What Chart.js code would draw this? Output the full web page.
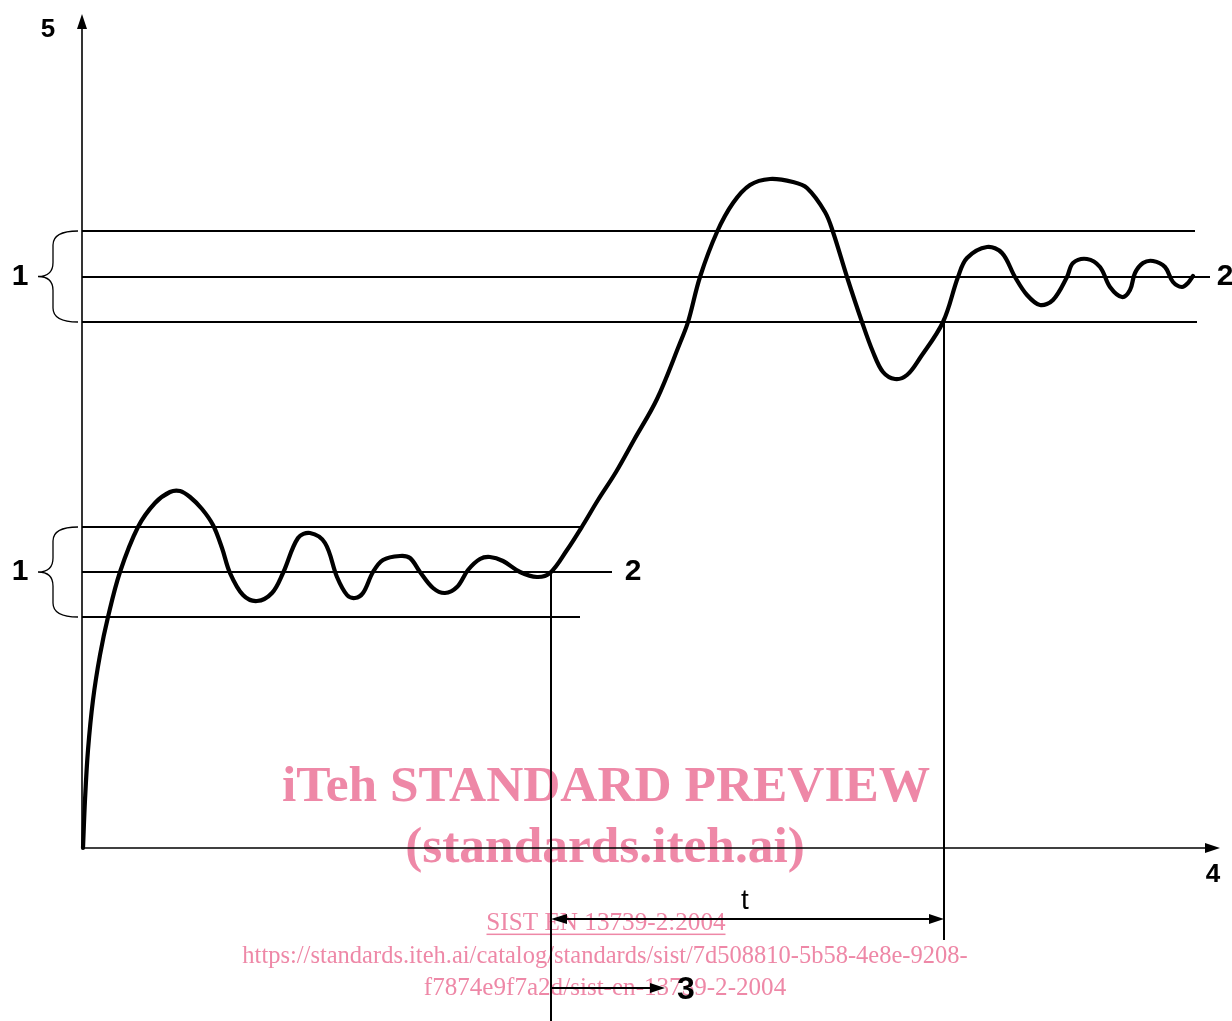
<!DOCTYPE html>
<html>
<head>
<meta charset="utf-8">
<script src="https://cdn.jsdelivr.net/npm/chart.js@4/dist/chart.umd.min.js"></script>
<style>
  html, body { margin: 0; padding: 0; background: #fff; }
  #wrap { width: 1232px; height: 1021px; }
</style>
</head>
<body>
<div id="wrap"><canvas id="chart"></canvas></div>
<script>
// response curve (time, value)
const curveX = [1,3,6,11,18,26,38,56,73,88,98,108,120,131,140,148,161,175,190,201,216,228,243,255,265,273,281,291,301,318,328,338,351,363,375,386,398,408,421,438,455,468,485,501,516,534,552,575,598,606,618,635,651,668,688,711,725,743,751,765,780,791,801,813,825,838,861,876,885,905,920,933,945,958,971,985,991,1005,1018,1028,1040,1048,1053,1061,1071,1083,1091,1100,1106,1111];
const curveY = [0,48,98,148,193,231,276,321,345,356,357,351,339,323,300,275,253,247,255,275,310,315,305,271,253,250,255,276,288,292,290,276,260,255,261,278,289,291,287,276,271,275,298,323,348,376,408,449,505,526,571,616,645,663,669,666,660,636,616,571,526,496,476,469,473,490,526,571,590,601,595,571,553,543,548,571,585,589,581,561,551,558,575,585,587,581,566,561,565,572];

// tolerance bands: [upper, setpoint, lower] and line ends
const bandLow = [321, 276, 231];
const bandLowEnd = [500, 530, 498];
const bandHigh = [617, 571, 526];
const bandHighEnd = [1113, 1128, 1115];

// marker times
const tStart = 469;
const tEnd = 862;

const xMax = 1138;
const yMax = 834;

const black = "#000";
const pink = "#ee88a7";

function seg(x0, y0, x1, y1, w) {
  return {
    data: [{ x: x0, y: y0 }, { x: x1, y: y1 }],
    borderColor: black, borderWidth: w || 2, pointRadius: 0, showLine: true, clip: false, tension: 0
  };
}

const datasets = [];
// axes
datasets.push(seg(0, 0, 0, 822, 1.6));
datasets.push(seg(0, 0, 1126, 0, 1.6));
// bands
bandLow.forEach((v, i) => datasets.push(seg(0, v, bandLowEnd[i], v, 2)));
bandHigh.forEach((v, i) => datasets.push(seg(0, v, bandHighEnd[i], v, 2)));
// verticals
datasets.push(seg(tStart, bandLow[1], tStart, -173, 2));
datasets.push(seg(tEnd, bandHigh[2], tEnd, -92, 2));
// dimension arrows
datasets.push(seg(tStart + 8, -71, tEnd - 8, -71, 2));
datasets.push(seg(tStart, -140, 575, -140, 2));
// curve
datasets.push({
  data: curveX.map((x, i) => ({ x: x, y: curveY[i] })),
  borderColor: black, borderWidth: 4.2, pointRadius: 0, showLine: true, clip: false,
  tension: 0.35, borderJoinStyle: "round", borderCapStyle: "round"
});

function arrowHead(ctx, sx, sy, tipX, tipY, dir) {
  const px = sx.getPixelForValue(tipX), py = sy.getPixelForValue(tipY);
  ctx.beginPath();
  ctx.fillStyle = black;
  if (dir === "up") { ctx.moveTo(px, py); ctx.lineTo(px - 5, py + 15); ctx.lineTo(px + 5, py + 15); }
  if (dir === "right") { ctx.moveTo(px, py); ctx.lineTo(px - 15, py - 5); ctx.lineTo(px - 15, py + 5); }
  if (dir === "left") { ctx.moveTo(px, py); ctx.lineTo(px + 16, py - 5); ctx.lineTo(px + 16, py + 5); }
  ctx.closePath();
  ctx.fill();
}

function brace(ctx, sx, sy, y0, y1) {
  const xr = sx.getPixelForValue(-4), xm = sx.getPixelForValue(-29), xt = sx.getPixelForValue(-44);
  const p0 = sy.getPixelForValue(y0), p1 = sy.getPixelForValue(y1);
  const pm = (p0 + p1) / 2, r = 14;
  ctx.beginPath();
  ctx.strokeStyle = black;
  ctx.lineWidth = 1.3;
  ctx.moveTo(xr, p0);
  ctx.quadraticCurveTo(xm, p0, xm, p0 + r);
  ctx.lineTo(xm, pm - r);
  ctx.quadraticCurveTo(xm, pm, xt, pm);
  ctx.quadraticCurveTo(xm, pm, xm, pm + r);
  ctx.lineTo(xm, p1 - r);
  ctx.quadraticCurveTo(xm, p1, xr, p1);
  ctx.stroke();
}

function label(ctx, sx, sy, text, x, y, font) {
  ctx.font = font;
  ctx.fillStyle = black;
  ctx.textAlign = "center";
  ctx.textBaseline = "middle";
  ctx.fillText(text, sx.getPixelForValue(x), sy.getPixelForValue(y));
}

function fitText(ctx, text, cx, cy, width, family, weight, underline) {
  let size = 40;
  ctx.font = weight + " " + size + "px " + family;
  size = size * width / ctx.measureText(text).width;
  ctx.font = weight + " " + size.toFixed(1) + "px " + family;
  ctx.fillStyle = pink;
  ctx.textAlign = "center";
  ctx.textBaseline = "middle";
  ctx.fillText(text, cx, cy);
  if (underline) {
    ctx.fillRect(cx - width / 2, cy + size * 0.42, width, 1.5);
  }
}

const overlay = {
  id: "overlay",
  beforeDatasetsDraw(chart) {
    const ctx = chart.ctx;
    ctx.save();
    const serif = "'Liberation Serif', 'Times New Roman', serif";
    fitText(ctx, "iTeh STANDARD PREVIEW", 606, 788, 648, serif, "bold");
    fitText(ctx, "(standards.iteh.ai)", 605, 849, 400, serif, "bold");
    fitText(ctx, "SIST EN 13739-2:2004", 606, 923, 239, serif, "normal", true);
    fitText(ctx, "https://standards.iteh.ai/catalog/standards/sist/7d508810-5b58-4e8e-9208-", 605, 957, 726, serif, "normal");
    fitText(ctx, "f7874e9f7a2d/sist-en-13739-2-2004", 605, 988, 363, serif, "normal");
    ctx.restore();
  },
  afterDatasetsDraw(chart) {
    const ctx = chart.ctx, sx = chart.scales.x, sy = chart.scales.y;
    ctx.save();
    arrowHead(ctx, sx, sy, 0, yMax, "up");
    arrowHead(ctx, sx, sy, xMax, 0, "right");
    arrowHead(ctx, sx, sy, tStart, -71, "left");
    arrowHead(ctx, sx, sy, tEnd, -71, "right");
    arrowHead(ctx, sx, sy, 583, -140, "right");
    brace(ctx, sx, sy, bandHigh[0], bandHigh[2]);
    brace(ctx, sx, sy, bandLow[0], bandLow[2]);
    const sans = "'Liberation Sans', Arial, sans-serif";
    label(ctx, sx, sy, "5", -34, 818, "bold 26px " + sans);
    label(ctx, sx, sy, "4", 1131, -27, "bold 26px " + sans);
    label(ctx, sx, sy, "1", -62, bandHigh[1], "bold 30px " + sans);
    label(ctx, sx, sy, "1", -62, bandLow[1], "bold 30px " + sans);
    label(ctx, sx, sy, "2", 551, bandLow[1], "bold 30px " + sans);
    label(ctx, sx, sy, "2", 1143, bandHigh[1], "bold 30px " + sans);
    label(ctx, sx, sy, "t", 663, -53, "28px " + sans);
    label(ctx, sx, sy, "3", 604, -142, "bold 32px " + sans);
    ctx.restore();
  }
};

new Chart(document.getElementById("chart"), {
  type: "scatter",
  data: { datasets: datasets },
  options: {
    responsive: true,
    maintainAspectRatio: false,
    animation: false,
    layout: { padding: { left: 82, right: 12, top: 14, bottom: 173 } },
    plugins: { legend: { display: false }, tooltip: { enabled: false } },
    scales: {
      x: { type: "linear", min: 0, max: xMax, display: false },
      y: { type: "linear", min: 0, max: yMax, display: false }
    }
  },
  plugins: [overlay]
});
</script>
</body>
</html>
